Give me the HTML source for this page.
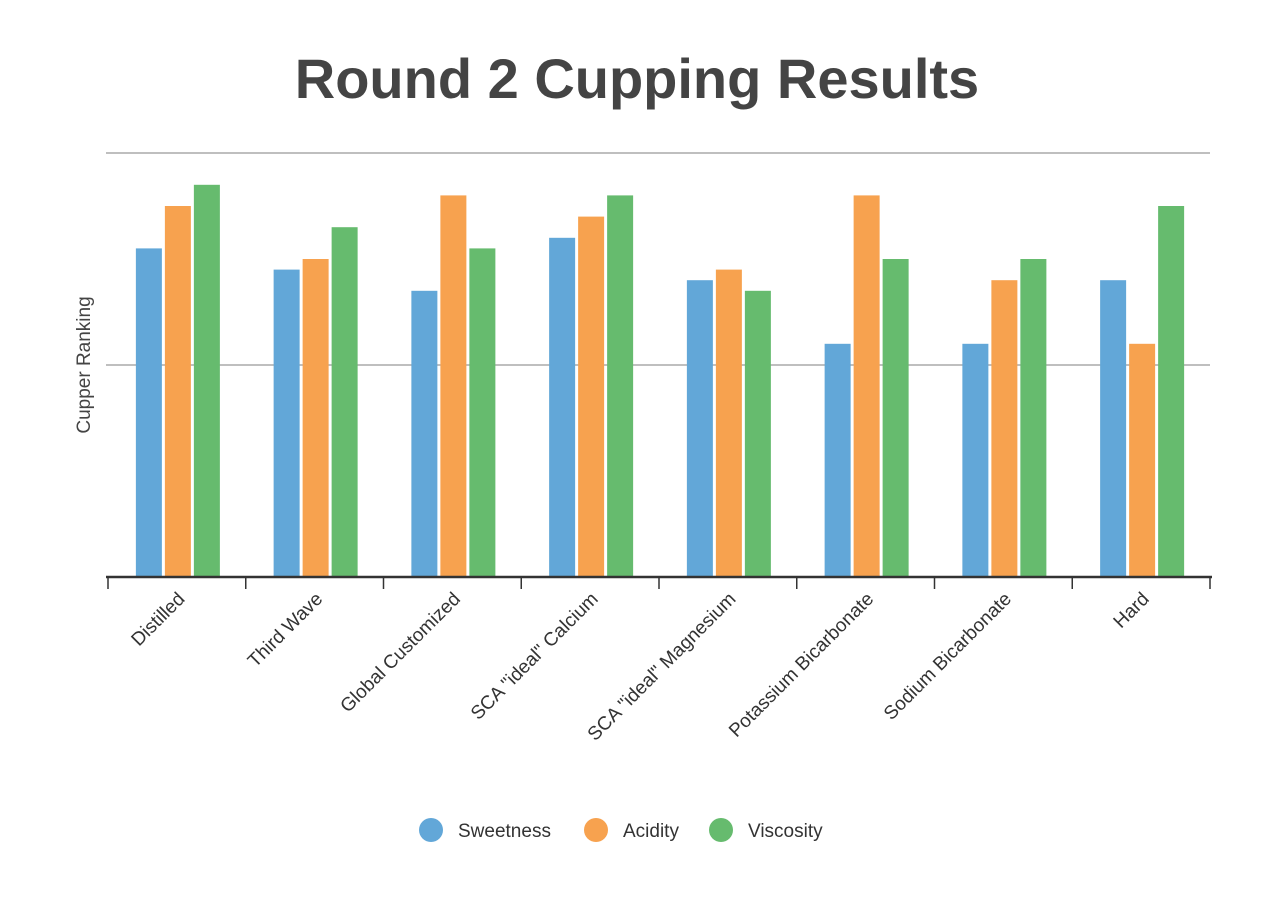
<!DOCTYPE html>
<html><head><meta charset="utf-8">
<style>
html,body{margin:0;padding:0;background:#fff;}
body{width:1278px;height:906px;overflow:hidden;font-family:"Liberation Sans",sans-serif;}
</style></head>
<body>
<svg id="chart" width="1278" height="906" xmlns="http://www.w3.org/2000/svg">
<text x="637" y="98" text-anchor="middle" font-family="Liberation Sans, sans-serif" font-size="56" font-weight="bold" fill="#444">Round 2 Cupping Results</text>
<text transform="translate(90,365) rotate(-90)" text-anchor="middle" font-size="19" fill="#444">Cupper Ranking</text>
<g id="grid"></g>
<g id="bars"></g>
<g id="xaxis"></g>
<g id="legend"></g>
</svg>
<script>
const categories=["Distilled","Third Wave","Global Customized","SCA \"ideal\" Calcium","SCA \"ideal\" Magnesium","Potassium Bicarbonate","Sodium Bicarbonate","Hard"];
const seriesNames=["Sweetness","Acidity","Viscosity"];
const sweetness=[31,29,27,32,28,22,22,28];
const acidity=[35,30,36,34,29,36,28,22];
const viscosity=[37,33,31,36,27,30,30,35];
const yTicks=[0,20,40];
const colors=["#62a7d8","#f7a24f","#66bb6e"];
const NS="http://www.w3.org/2000/svg";
const x0=108,x1=1210,y0=577,yTop=153,yMax=40;
const bw=(x1-x0)/categories.length;
function yScale(v){return y0-(v/yMax)*(y0-yTop);}
function xBand(i){return x0+i*bw;}
function mk(t,a,p){const e=document.createElementNS(NS,t);for(const k in a)e.setAttribute(k,a[k]);p.appendChild(e);return e;}
const grid=document.getElementById('grid');
yTicks.forEach((t,i)=>{if(t===0)return;
 const l=mk('line',{x1:x0-2,x2:x1,y1:yScale(t),y2:yScale(t),stroke:'#999','stroke-width':1.2},grid);
 
 
});
const bars=document.getElementById('bars');
const series=[sweetness,acidity,viscosity];
const barW=26,gap=3;
categories.forEach((c,i)=>{
 const cx=xBand(i)+bw/2+1;
 series.forEach((s,j)=>{
  const x=cx-(3*barW+2*gap)/2+j*(barW+gap);
  const r=mk('rect',{x:x,y:yScale(s[i]),width:barW,height:y0-yScale(s[i]),fill:colors[j]},bars);
  
  
 });
});
const xa=document.getElementById('xaxis');
const ax=mk('line',{x1:x0-2,x2:x1+2,y1:y0,y2:y0,stroke:'#333','stroke-width':2.5},xa);


for(let i=0;i<=categories.length;i++){
 const t=mk('line',{x1:xBand(i),x2:xBand(i),y1:y0,y2:y0+12,stroke:'#333','stroke-width':1.5},xa);
 
 
}
categories.forEach((c,i)=>{
 const cx=xBand(i)+bw/2+9;
 const t=mk('text',{transform:`translate(${cx},600) rotate(-45)`,'text-anchor':'end','font-size':19,fill:'#333'},xa);
 t.textContent=c;
 
 
});
const lg=document.getElementById('legend');
const lx=[431,596,721];
seriesNames.forEach((n,j)=>{
 const g=mk('g',{},lg);
 
 
 mk('circle',{cx:lx[j],cy:830,r:12,fill:colors[j]},g);
 const t=mk('text',{x:lx[j]+27,y:837,'font-size':19,fill:'#333'},g);
 t.textContent=n;
});
</script>
</body></html>
